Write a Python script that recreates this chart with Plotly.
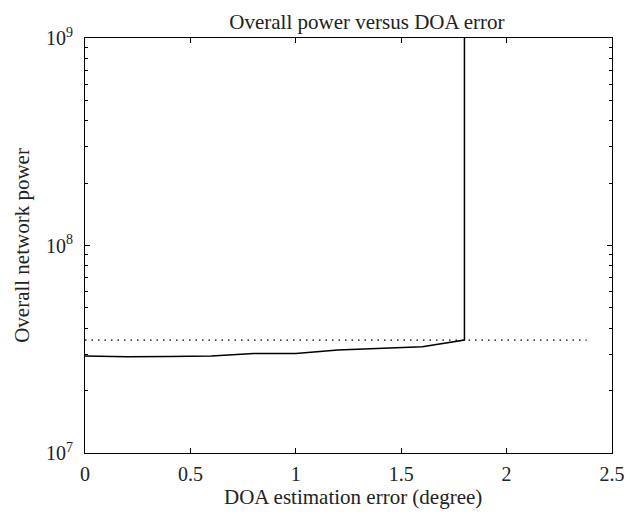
import plotly.graph_objects as go

doa_error = [0, 0.2, 0.4, 0.6, 0.8, 1.0, 1.2, 1.4, 1.6, 1.8, 1.8]
network_power = [2.93e7, 2.91e7, 2.92e7, 2.93e7, 3.02e7, 3.02e7, 3.14e7, 3.2e7, 3.25e7, 3.5e7, 1e12]

bound_x = [0, 2.38]
bound_y = [3.5e7, 3.5e7]

y_tickvals = [1e7, 1e8, 1e9]
y_ticktext = ["10<sup>7</sup>", "10<sup>8</sup>", "10<sup>9</sup>"]
x_tickvals = [0, 0.5, 1, 1.5, 2, 2.5]
x_ticktext = ["0", "0.5", "1", "1.5", "2", "2.5"]
minor_vals = [m * 10 ** e for e in (7, 8) for m in range(2, 10)]

font_family = "Liberation Serif, DejaVu Serif, serif"
txt = "#222"

fig = go.Figure()
fig.add_trace(go.Scatter(x=bound_x, y=bound_y, mode="lines",
                         line=dict(color="black", width=1.3, dash="1.5px,5px"),
                         showlegend=False))
fig.add_trace(go.Scatter(x=doa_error, y=network_power, mode="lines",
                         line=dict(color="black", width=1.5),
                         showlegend=False))

fig.update_layout(
    width=629, height=508,
    margin=dict(l=77, r=25, t=30, b=63),
    paper_bgcolor="white", plot_bgcolor="white",
    font=dict(family=font_family, size=20, color=txt),
    title=dict(text="Overall power versus DOA error", x=0.535, xref="paper",
               xanchor="center", y=1 - 14 / 508, yref="container", yanchor="middle",
               font=dict(size=21, family=font_family, color=txt)),
    xaxis=dict(range=[0, 2.5], tickvals=x_tickvals, ticktext=x_ticktext,
               ticks="inside", ticklen=5, tickcolor="black", ticklabelstandoff=3,
               tickfont=dict(size=20, family=font_family, color=txt),
               showline=True, linecolor="black", linewidth=1, mirror="ticks",
               showgrid=False, zeroline=False),
    yaxis=dict(type="log", range=[7, 9], tickvals=y_tickvals, ticktext=y_ticktext,
               ticks="inside", ticklen=5, tickcolor="black", ticklabelstandoff=7,
               tickfont=dict(size=20, family=font_family, color=txt),
               showline=True, linecolor="black", linewidth=1, mirror="ticks",
               showgrid=False, zeroline=False,
               minor=dict(tickvals=minor_vals, ticks="inside", ticklen=3,
                          tickcolor="black", showgrid=False)),
    annotations=[
        dict(text="DOA estimation error (degree)", xref="paper", yref="paper",
             x=0.509, y=-0.106, xanchor="center", yanchor="middle", showarrow=False,
             font=dict(size=21, family=font_family, color=txt)),
        dict(text="Overall network power", xref="paper", yref="paper",
             x=-0.12, y=0.501, xanchor="center", yanchor="middle", showarrow=False,
             textangle=-90, font=dict(size=21, family=font_family, color=txt)),
    ],
)

fig.write_html("out.html")
